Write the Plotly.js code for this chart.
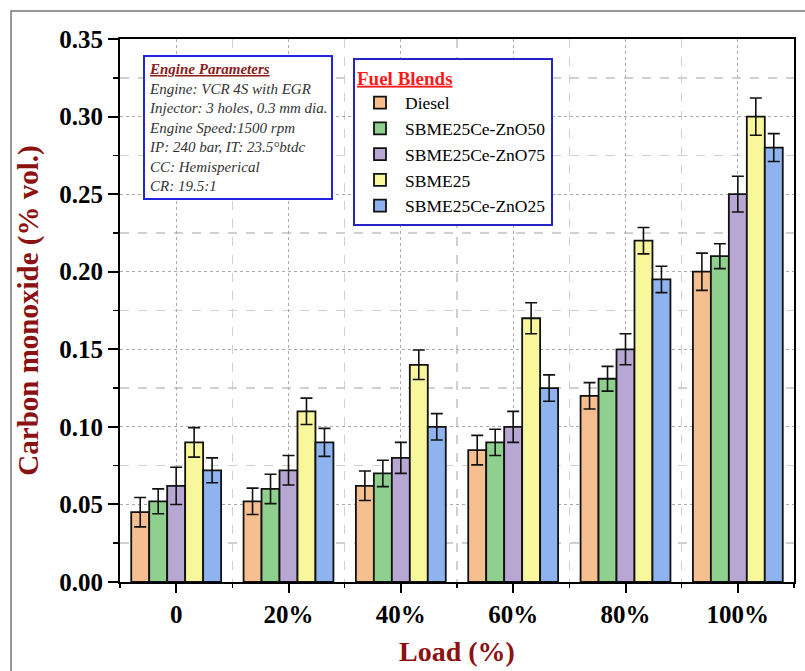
<!DOCTYPE html>
<html>
<head>
<meta charset="utf-8">
<script src="https://cdn.plot.ly/plotly-3.0.1.min.js"></script>
<style>html,body{margin:0;padding:0;background:#fff;}#chart{width:805px;height:671px;}</style>
</head>
<body>
<div id="chart"></div>
<script>
// ---- Data ----
const categories = ["0", "20%", "40%", "60%", "80%", "100%"];
const seriesNames = ["Diesel", "SBME25Ce-ZnO50", "SBME25Ce-ZnO75", "SBME25", "SBME25Ce-ZnO25"];
const diesel    = [0.045, 0.052, 0.062, 0.085, 0.120, 0.200];
const zno50     = [0.052, 0.060, 0.070, 0.090, 0.131, 0.210];
const zno75     = [0.062, 0.072, 0.080, 0.100, 0.150, 0.250];
const sbme25    = [0.090, 0.110, 0.140, 0.170, 0.220, 0.300];
const zno25     = [0.072, 0.090, 0.100, 0.125, 0.195, 0.280];
const dieselErr = [0.0095, 0.0085, 0.0095, 0.0095, 0.0085, 0.012];
const zno50Err  = [0.008, 0.0095, 0.0085, 0.0085, 0.008, 0.008];
const zno75Err  = [0.012, 0.0095, 0.010, 0.010, 0.010, 0.0115];
const sbme25Err = [0.0095, 0.0085, 0.0095, 0.010, 0.0085, 0.012];
const zno25Err  = [0.008, 0.009, 0.0085, 0.0085, 0.0085, 0.009];
const yTickVals = [0, 0.05, 0.10, 0.15, 0.20, 0.25, 0.30, 0.35];
const engineLines = ["Engine: VCR 4S with EGR", "Injector: 3 holes, 0.3 mm dia.", "Engine Speed:1500 rpm",
  "IP: 240 bar, IT: 23.5°btdc", "CC: Hemisperical", "CR: 19.5:1"];

// ---- Styles ----
const colors = ["#F6BF8F", "#8FD08F", "#B8A7D2", "#F8F79B", "#8FB3EE"];
const values = [diesel, zno50, zno75, sbme25, zno25];
const errs = [dieselErr, zno50Err, zno75Err, sbme25Err, zno25Err];
const serif = "Liberation Serif, Times New Roman, serif";
const xIdx = categories.map((c, i) => i);

const traces = values.map((v, k) => ({
  type: "bar",
  name: seriesNames[k],
  x: xIdx,
  y: v,
  marker: {color: colors[k], line: {color: "#111", width: 1.8}},
  error_y: {type: "data", array: errs[k], visible: true, color: "#111", thickness: 1.6, width: 6}
}));

const L = 120, R = 794, T = 39, B = 582, W = 805, H = 671;
const px = p => (p - L) / (R - L);
const py = p => (B - p) / (B - T);

const layout = {
  width: W, height: H,
  margin: {l: L, r: W - R, t: T, b: H - B, pad: 0},
  paper_bgcolor: "#fff", plot_bgcolor: "#fff",
  barmode: "group", bargap: 0.2, bargroupgap: 0,
  font: {family: serif, color: "#000"},
  showlegend: true,
  legend: {
    x: px(353), y: py(58), xanchor: "left", yanchor: "top",
    bgcolor: "#fff", bordercolor: "#2323C8", borderwidth: 2,
    font: {family: serif, size: 17.5, color: "#000"},
    title: {text: "<b><u>Fuel Blends</u></b>", font: {family: serif, size: 19, color: "#FF1A1A"}},
    tracegroupgap: 0, itemwidth: 40
  },
  xaxis: {
    type: "linear", range: [-0.5, 5.5],
    tickmode: "array", tickvals: xIdx, ticktext: categories,
    ticks: "outside", ticklen: 9, tickwidth: 2, tickcolor: "#000",
    tickfont: {family: serif, size: 25, color: "#000", weight: "bold"},
    showline: true, linecolor: "#000", linewidth: 2, mirror: true,
    showgrid: true, gridcolor: "#aaa", griddash: "dot", gridwidth: 1,
    zeroline: false,
    minor: {tickmode: "linear", tick0: 0.5, dtick: 1, ticks: "outside", ticklen: 4, tickwidth: 1.5, tickcolor: "#000",
            showgrid: true, gridcolor: "#d0d0d0", griddash: "dash", gridwidth: 1.5},
    title: {text: "<b>Load (%)</b>", font: {family: serif, size: 28, color: "#8B1212"}, standoff: 14}
  },
  yaxis: {
    range: [0, 0.35], tickmode: "array", tickvals: yTickVals, tickformat: ".2f",
    ticks: "outside", ticklen: 10, tickwidth: 2, tickcolor: "#000",
    tickfont: {family: serif, size: 25, color: "#000", weight: "bold"},
    showline: true, linecolor: "#000", linewidth: 2, mirror: true,
    showgrid: true, gridcolor: "#aaa", griddash: "dot", gridwidth: 1,
    zeroline: false,
    minor: {tickmode: "linear", tick0: 0.025, dtick: 0.05, ticks: "outside", ticklen: 5, tickwidth: 1.5, tickcolor: "#000",
            showgrid: true, gridcolor: "#d0d0d0", griddash: "dash", gridwidth: 1.5},
    title: {text: "<b>Carbon monoxide (% vol.)</b>", font: {family: serif, size: 29, color: "#8B1212"}, standoff: 12}
  },
  annotations: [{
    xref: "paper", yref: "paper", x: px(143), y: py(55), xanchor: "left", yanchor: "top",
    align: "left", showarrow: false,
    text: '<span style="color:#8B1A1A"><b><u>Engine Parameters</u></b></span><br>' + engineLines.join("<br>"),
    font: {family: serif, size: 15, color: "#333", style: "italic"},
    bgcolor: "#fff", bordercolor: "#2323E0", borderwidth: 2, borderpad: 4
  }],
  shapes: [{
    type: "rect", xref: "paper", yref: "paper", layer: "below",
    x0: px(11), x1: px(812), y0: py(680), y1: py(11),
    line: {color: "#777", width: 1.5}, fillcolor: "rgba(0,0,0,0)"
  }]
};

Plotly.newPlot("chart", traces, layout, {displayModeBar: false, staticPlot: true});
</script>
</body>
</html>
